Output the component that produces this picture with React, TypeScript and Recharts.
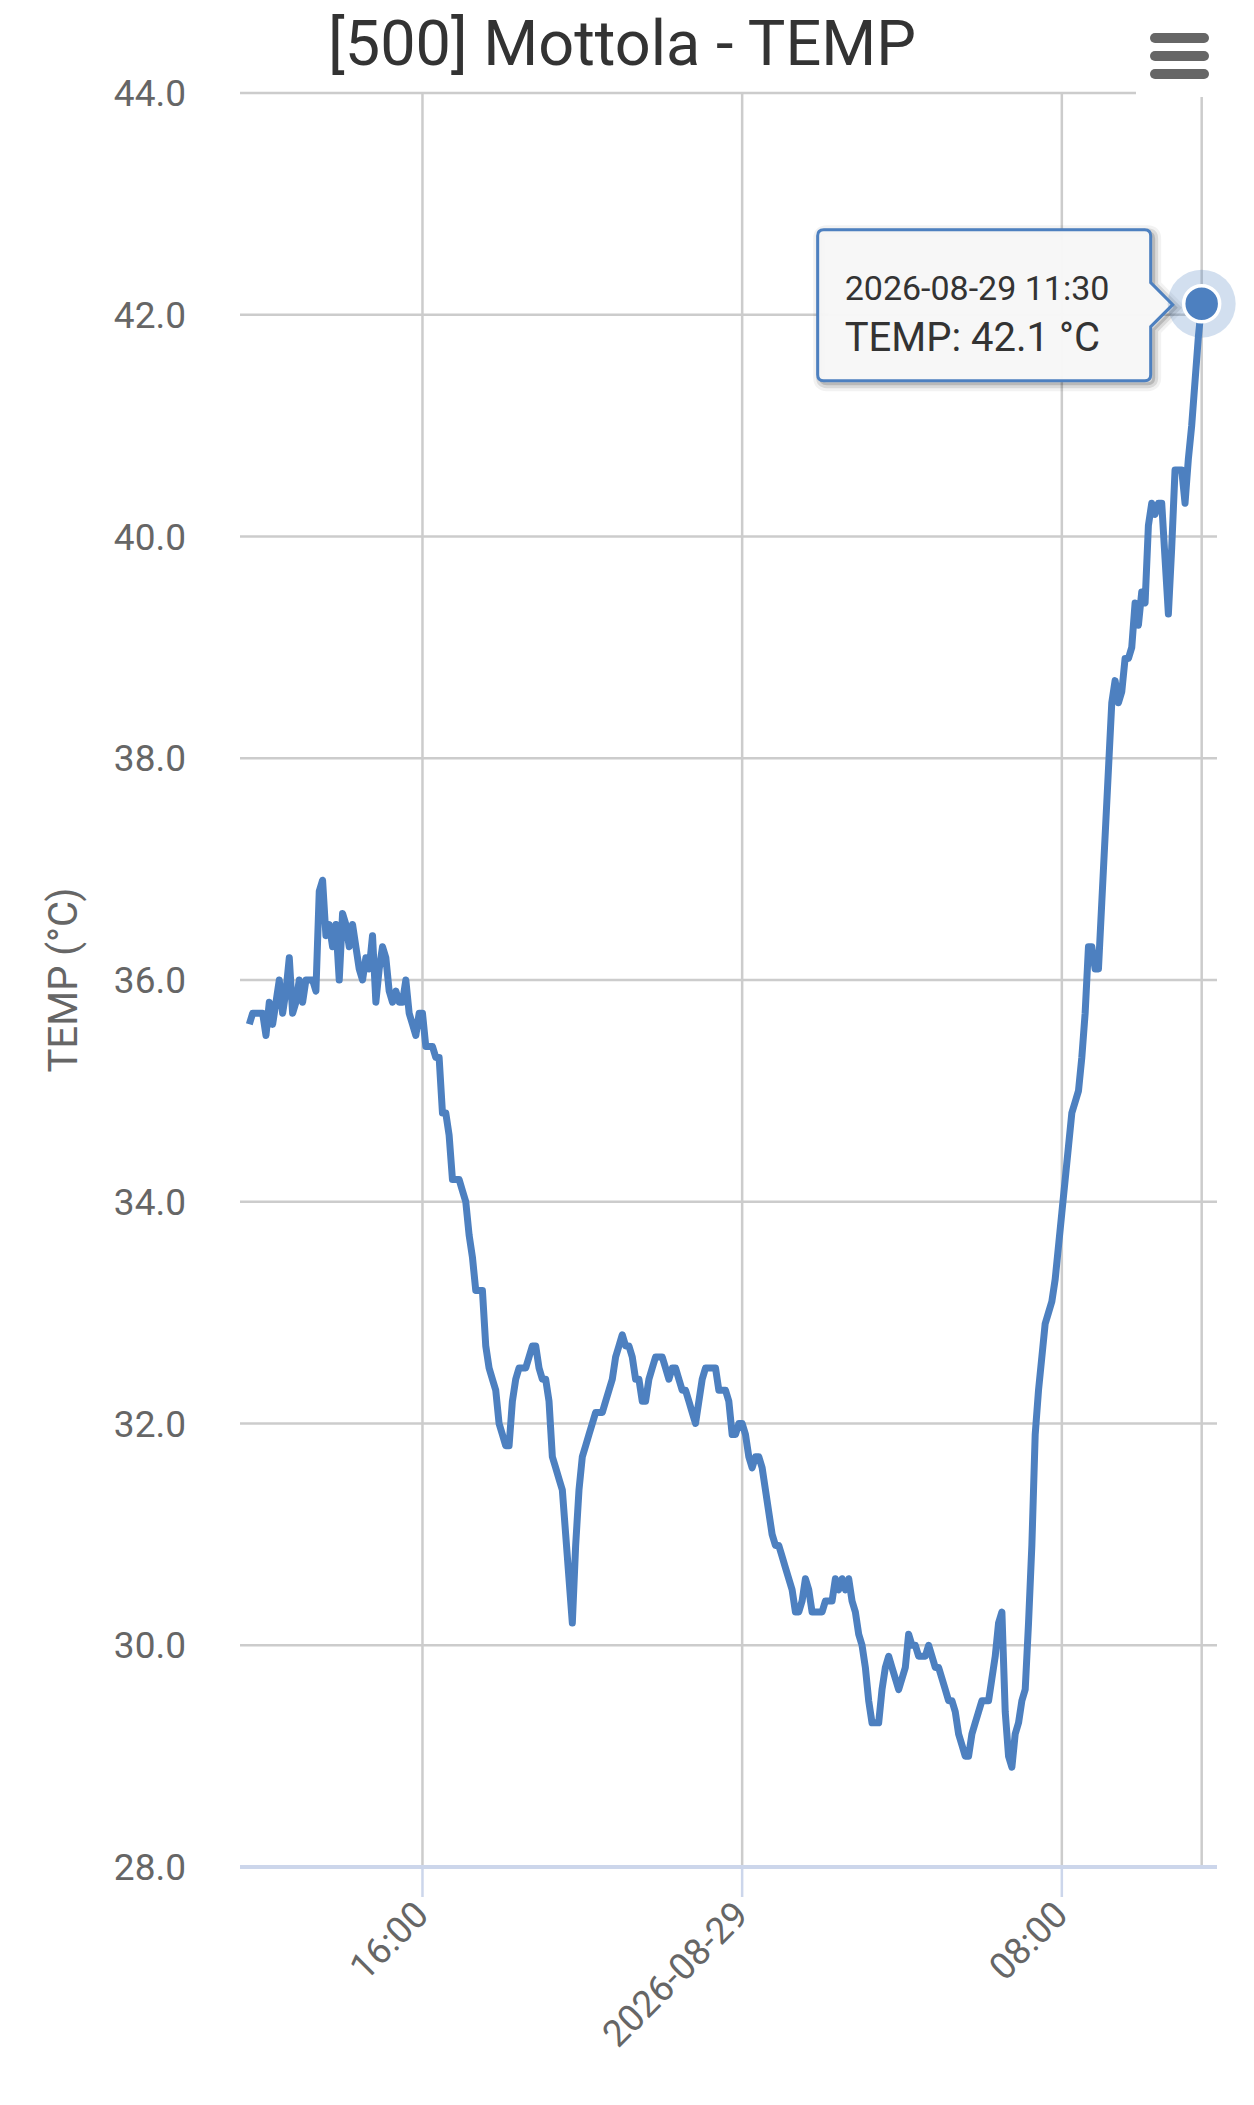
import { LineChart, Line, XAxis, YAxis, CartesianGrid, ReferenceLine, ReferenceDot } from "recharts"

const chartTitle = "[500] Mottola - TEMP"
const seriesName = "TEMP"
const unit = "°C"
const datePrefix = "2026-08-"
const firstDay = 28
// minutes since 2026-08-28 00:00
const startMinute = 700
const stepMinutes = 5

// 11:40 - 15:55
const tempsMidday28 = [
  35.6, 35.7, 35.7, 35.7, 35.7, 35.5, 35.8, 35.6, 35.8, 36.0,
  35.7, 35.9, 36.2, 35.7, 35.8, 36.0, 35.8, 36.0, 36.0, 36.0,
  35.9, 36.8, 36.9, 36.4, 36.5, 36.3, 36.5, 36.0, 36.6, 36.5,
  36.3, 36.5, 36.3, 36.1, 36.0, 36.2, 36.1, 36.4, 35.8, 36.1,
  36.3, 36.2, 35.9, 35.8, 35.9, 35.8, 35.8, 36.0, 35.7, 35.6,
  35.5, 35.7,
]
// 16:00 - 23:55
const tempsEvening28 = [
  35.7, 35.4, 35.4, 35.4, 35.3, 35.3, 34.8, 34.8,
  34.6, 34.2, 34.2, 34.2, 34.1, 34.0, 33.7, 33.5, 33.2, 33.2,
  33.2, 32.7, 32.5, 32.4, 32.3, 32.0, 31.9, 31.8, 31.8, 32.2,
  32.4, 32.5, 32.5, 32.5, 32.6, 32.7, 32.7, 32.5, 32.4, 32.4,
  32.2, 31.7, 31.6, 31.5, 31.4, 31.0, 30.6, 30.2, 30.9, 31.4,
  31.7, 31.8, 31.9, 32.0, 32.1, 32.1, 32.1, 32.2, 32.3, 32.4,
  32.6, 32.7, 32.8, 32.7, 32.7, 32.6, 32.4, 32.4, 32.2, 32.2,
  32.4, 32.5, 32.6, 32.6, 32.6, 32.5, 32.4, 32.5, 32.5, 32.4,
  32.3, 32.3, 32.2, 32.1, 32.0, 32.2, 32.4, 32.5, 32.5, 32.5,
  32.5, 32.3, 32.3, 32.3, 32.2, 31.9, 31.9, 32.0,
]
// 00:00 - 07:55
const tempsNight29 = [
  32.0, 31.9,
  31.7, 31.6, 31.7, 31.7, 31.6, 31.4, 31.2, 31.0, 30.9, 30.9,
  30.8, 30.7, 30.6, 30.5, 30.3, 30.3, 30.4, 30.6, 30.5, 30.3,
  30.3, 30.3, 30.3, 30.4, 30.4, 30.4, 30.6, 30.5, 30.6, 30.5,
  30.6, 30.4, 30.3, 30.1, 30.0, 29.8, 29.5, 29.3, 29.3, 29.3,
  29.6, 29.8, 29.9, 29.8, 29.7, 29.6, 29.7, 29.8, 30.1, 30.0,
  30.0, 29.9, 29.9, 29.9, 30.0, 29.9, 29.8, 29.8, 29.7, 29.6,
  29.5, 29.5, 29.4, 29.2, 29.1, 29.0, 29.0, 29.2, 29.3, 29.4,
  29.5, 29.5, 29.5, 29.7, 29.9, 30.2, 30.3, 29.4, 29.0, 28.9,
  29.2, 29.3, 29.5, 29.6, 30.2, 30.9, 31.9, 32.3, 32.6, 32.9,
  33.0, 33.1, 33.3, 33.6,
]
// 08:00 - 11:30
const tempsMorning29 = [
  33.9, 34.2, 34.5, 34.8, 34.9, 35.0,
  35.3, 35.7, 36.3, 36.3, 36.1, 36.1, 36.7, 37.3, 37.9, 38.5,
  38.7, 38.5, 38.6, 38.9, 38.9, 39.0, 39.4, 39.2, 39.5, 39.4,
  40.1, 40.3, 40.2, 40.3, 40.3, 39.8, 39.3, 39.9, 40.6, 40.6,
  40.6, 40.3, 40.7, 41.0, 41.4, 41.8, 42.1,
]

const temps = [...tempsMidday28, ...tempsEvening28, ...tempsNight29, ...tempsMorning29]

const xTicks = [960, 1440, 1920]
const xDomain = [686, 2153]
const yTicks = [28, 30, 32, 34, 36, 38, 40, 42, 44]
const yDomain = [28, 44]

const data = temps.map((temp, i) => ({ minute: startMinute + i * stepMinutes, temp }))
const last = data[data.length - 1]

const lineColor = "#4d80c0"
const gridColor = "#cccccc"
const axisColor = "#ccd6eb"
const labelColor = "#666666"

const pad = (n: number) => String(n).padStart(2, "0")
const dayOf = (m: number) => `${datePrefix}${firstDay + Math.floor(m / 1440)}`
const clockOf = (m: number) => `${pad(Math.floor((m % 1440) / 60))}:${pad(m % 60)}`
const formatTick = (m: number) => (m % 1440 === 0 ? dayOf(m) : clockOf(m))

function XTick(props: any) {
  const { x, y, payload } = props
  const tx = x + 8
  const ty = y + 18
  return (
    <text
      x={tx}
      y={ty}
      transform={`rotate(-45 ${tx} ${ty})`}
      textAnchor="end"
      fontSize={37}
      fill={labelColor}
    >
      {formatTick(payload.value)}
    </text>
  )
}

function calloutPath(left: number, right: number, top: number, bottom: number, cy: number, tipX: number) {
  const r = 6
  return [
    `M${left + r},${top}`,
    `H${right - r}`,
    `Q${right},${top} ${right},${top + r}`,
    `V${cy - 21}`,
    `L${tipX},${cy + 1}`,
    `L${right},${cy + 23}`,
    `V${bottom - r}`,
    `Q${right},${bottom} ${right - r},${bottom}`,
    `H${left + r}`,
    `Q${left},${bottom} ${left},${bottom - r}`,
    `V${top + r}`,
    `Q${left},${top} ${left + r},${top}`,
    "Z",
  ].join(" ")
}

function HoverPoint(props: any) {
  const { cx, cy } = props
  const left = cx - 384
  const right = cx - 51
  const top = cy - 74
  const bottom = cy + 77
  const d = calloutPath(left, right, top, bottom, cy, cx - 29)
  return (
    <g>
      <g transform="translate(3 3)" fill="none" stroke="#000">
        <path d={d} strokeOpacity={0.05} strokeWidth={15} />
        <path d={d} strokeOpacity={0.1} strokeWidth={9} />
        <path d={d} strokeOpacity={0.15} strokeWidth={3} />
      </g>
      <path d={d} fill="#f7f7f7" fillOpacity={0.97} stroke={lineColor} strokeWidth={3} />
      <text x={left + 27} y={cy - 4} fontSize={34} fill="#333">
        {`${dayOf(last.minute)} ${clockOf(last.minute)}`}
      </text>
      <text x={left + 27} y={cy + 47} fontSize={40} fill="#333">
        {`${seriesName}: ${last.temp.toFixed(1)} ${unit}`}
      </text>
      <circle cx={cx} cy={cy} r={34} fill={lineColor} fillOpacity={0.25} />
      <circle cx={cx} cy={cy} r={18} fill={lineColor} stroke="#fff" strokeWidth={3.5} />
    </g>
  )
}

export default function App() {
  return (
    <div
      style={{
        position: "absolute",
        left: 0,
        top: 0,
        width: 1254,
        height: 2105,
        background: "#fff",
        fontFamily: "Roboto, 'Noto Sans', sans-serif",
      }}
    >
      <LineChart width={1254} height={2105} data={data} margin={{ top: 93, right: 37, bottom: 0, left: 0 }}>
        <CartesianGrid stroke={gridColor} strokeWidth={2.5} vertical={false} />
        <XAxis
          dataKey="minute"
          type="number"
          domain={xDomain}
          ticks={xTicks}
          interval={0}
          allowDataOverflow
          height={238}
          tickSize={30}
          tickLine={{ stroke: axisColor, strokeWidth: 2.5 }}
          axisLine={{ stroke: axisColor, strokeWidth: 4 }}
          tick={<XTick />}
        />
        <YAxis
          type="number"
          domain={yDomain}
          ticks={yTicks}
          interval={0}
          width={240}
          tickSize={0}
          tickMargin={54}
          axisLine={false}
          tickLine={false}
          tickFormatter={(v: number) => v.toFixed(1)}
          tick={{ fontSize: 37, fill: labelColor }}
        />
        {xTicks.map((t) => (
          <ReferenceLine key={t} x={t} stroke={gridColor} strokeWidth={2.5} zIndex={-50} />
        ))}
        <ReferenceLine x={last.minute} stroke={gridColor} strokeWidth={2.5} zIndex={-50} />
        <Line
          type="linear"
          dataKey="temp"
          stroke={lineColor}
          strokeWidth={7}
          strokeLinejoin="round"
          dot={false}
          activeDot={false}
          isAnimationActive={false}
        />
        <ReferenceDot x={last.minute} y={last.temp} r={18} shape={<HoverPoint />} zIndex={1500} />
      </LineChart>
      <svg
        width={1254}
        height={2105}
        style={{ position: "absolute", left: 0, top: 0, pointerEvents: "none" }}
      >
        <text x={622} y={65} textAnchor="middle" fontSize={63} fill="#333">
          {chartTitle}
        </text>
        <rect x={1136} y={0} width={118} height={97} fill="#fff" />
        <g stroke={labelColor} strokeWidth={10} strokeLinecap="round">
          <line x1={1155} x2={1204} y1={38} y2={38} />
          <line x1={1155} x2={1204} y1={56} y2={56} />
          <line x1={1155} x2={1204} y1={74} y2={74} />
        </g>
        <text
          x={77}
          y={980}
          transform="rotate(-90 77 980)"
          textAnchor="middle"
          fontSize={40}
          fill={labelColor}
        >
          {`${seriesName} (${unit})`}
        </text>
      </svg>
    </div>
  )
}
